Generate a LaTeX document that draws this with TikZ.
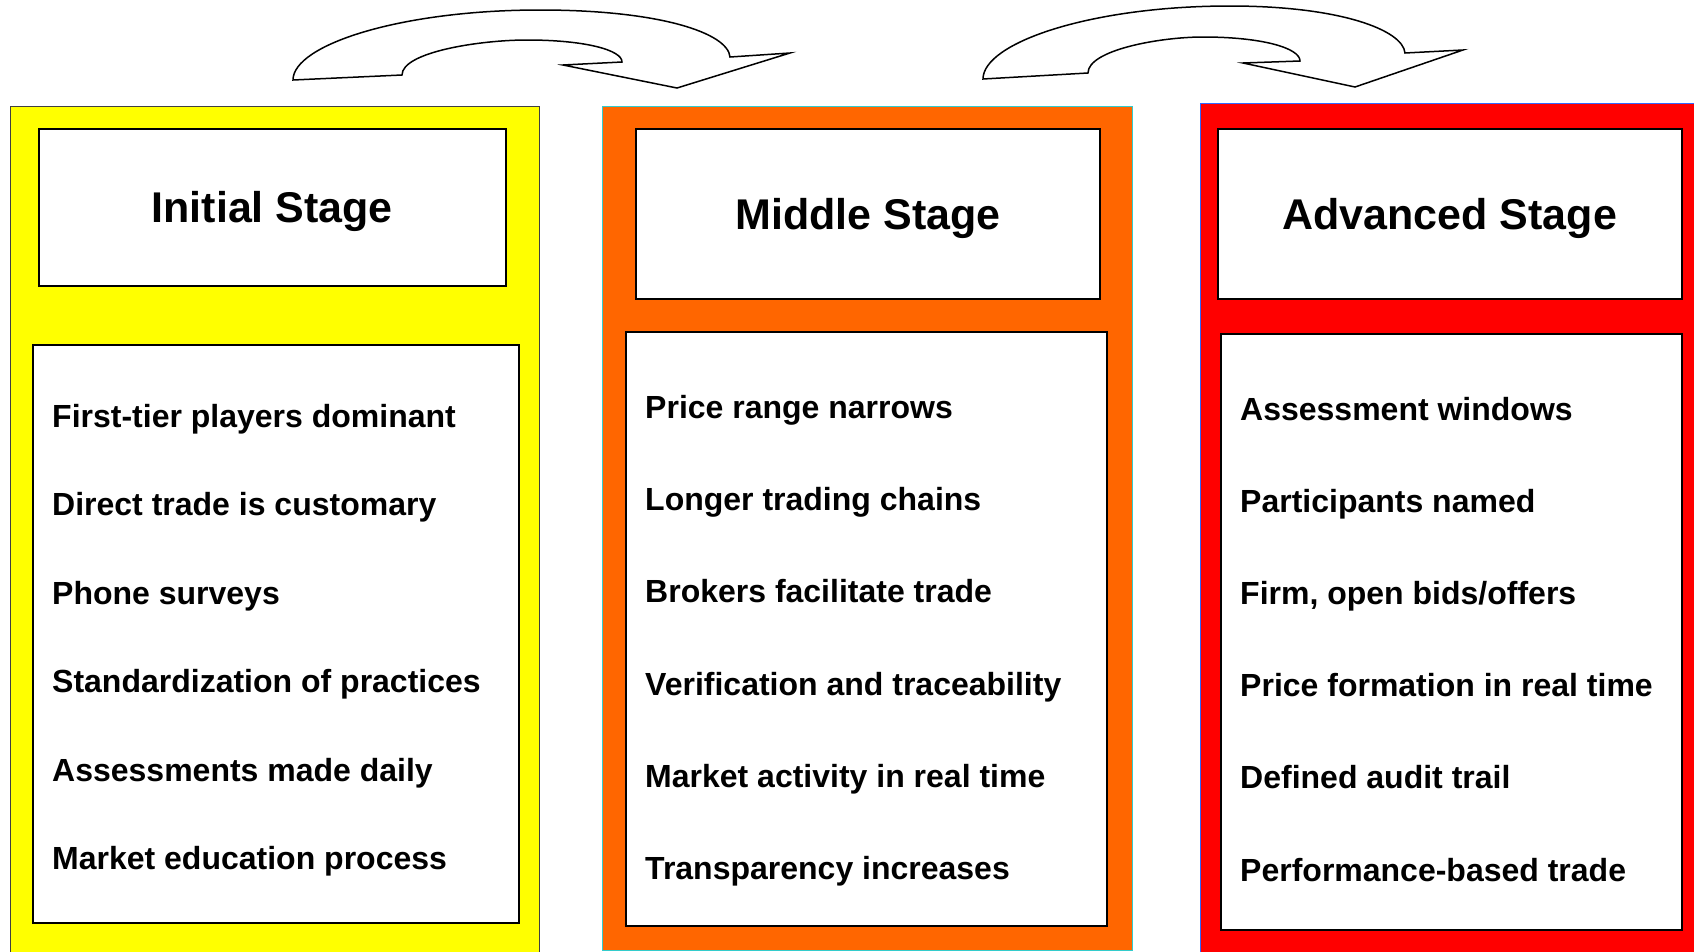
\documentclass[tikz,border=0pt]{standalone}
\usepackage{fontspec}
\setmainfont{Liberation Sans}
\definecolor{grayedge}{HTML}{404040}
\definecolor{cyanedge}{HTML}{33CCCC}
\definecolor{blueedge}{HTML}{3366FF}
\definecolor{orangefill}{HTML}{FF6600}
\definecolor{redfill}{HTML}{FF0000}
\definecolor{yellowfill}{HTML}{FFFF00}
\begin{document}
\begin{tikzpicture}[x=1pt,y=-1pt,
  panel/.style={draw, line width=1.2pt, anchor=north west, inner sep=0pt},
  whitebox/.style={draw=black, fill=white, line width=2pt, anchor=north west, inner sep=0pt},
  stagetitle/.style={anchor=base, font=\fontsize{43}{48}\selectfont\bfseries, inner sep=0pt, yshift=-15.5pt},
  item/.style={anchor=base west, font=\fontsize{32}{36}\selectfont\bfseries, inner sep=0pt},
  turnarrow/.style={draw=black, fill=white, line width=1.5pt, line join=miter}]
\clip (0,0) rectangle (1694,951);

% coloured stage panels
\node[panel, draw=grayedge, fill=yellowfill, minimum width=529, minimum height=846] (p1) at (10,106) {};
\node[panel, draw=cyanedge, fill=orangefill, minimum width=530, minimum height=844] (p2) at (602,106) {};
\node[panel, draw=blueedge, fill=redfill, minimum width=505, minimum height=852] (p3) at (1200,103) {};

% title boxes
\node[whitebox, minimum width=466.5, minimum height=157.5] (t1) at (38,127.5) {};
\node[whitebox, minimum width=464, minimum height=170] (t2) at (635,127.5) {};
\node[whitebox, minimum width=464.5, minimum height=170] (t3) at (1216.5,127.5) {};
\node[stagetitle] (t1txt) at (t1.center) {Initial Stage};
\node[stagetitle] (t2txt) at (t2.center) {Middle Stage};
\node[stagetitle] (t3txt) at (t3.center) {Advanced Stage};

% item boxes
\node[whitebox, minimum width=485.5, minimum height=578] (b1) at (32,343.5) {};
\node[whitebox, minimum width=481, minimum height=594] (b2) at (624.5,330.5) {};
\node[whitebox, minimum width=461, minimum height=596] (b3) at (1220,333) {};

% item lists
\foreach \txt [count=\i from 0] in {First-tier players dominant, Direct trade is customary, Phone surveys,
    Standardization of practices, Assessments made daily, Market education process}
  \node[item] (a\i) at (52, 427.5+88.4*\i) {\txt};
\foreach \txt [count=\i from 0] in {Price range narrows, Longer trading chains, Brokers facilitate trade,
    Verification and traceability, Market activity in real time, Transparency increases}
  \node[item] (m\i) at (645, 418.5+92.2*\i) {\txt};
\foreach \txt [count=\i from 0] in {Assessment windows, Participants named, {Firm, open bids/offers},
    Price formation in real time, Defined audit trail, Performance-based trade}
  \node[item] (r\i) at (1240, 420+92.2*\i) {\txt};

% curved block arrows between stages
\draw[turnarrow] (293,80) -- (402,75)
  .. controls (402,52) and (480,40) .. (527,40)
  .. controls (585,40) and (622,50) .. (622,62)
  -- (563,65) -- (677,88) -- (790,53) -- (730,57)
  .. controls (728,33) and (660,10) .. (540,10)
  .. controls (400,10) and (293,45) .. (293,80) -- cycle;
\draw[turnarrow] (983,79) -- (1088,73)
  .. controls (1088,50) and (1160,37) .. (1203,37)
  .. controls (1262,37) and (1300,48) .. (1300,61)
  -- (1243,63) -- (1355,87) -- (1463,50) -- (1405,53)
  .. controls (1403,30) and (1340,6) .. (1230,6)
  .. controls (1090,6) and (983,43) .. (983,79) -- cycle;
\end{tikzpicture}
\end{document}
